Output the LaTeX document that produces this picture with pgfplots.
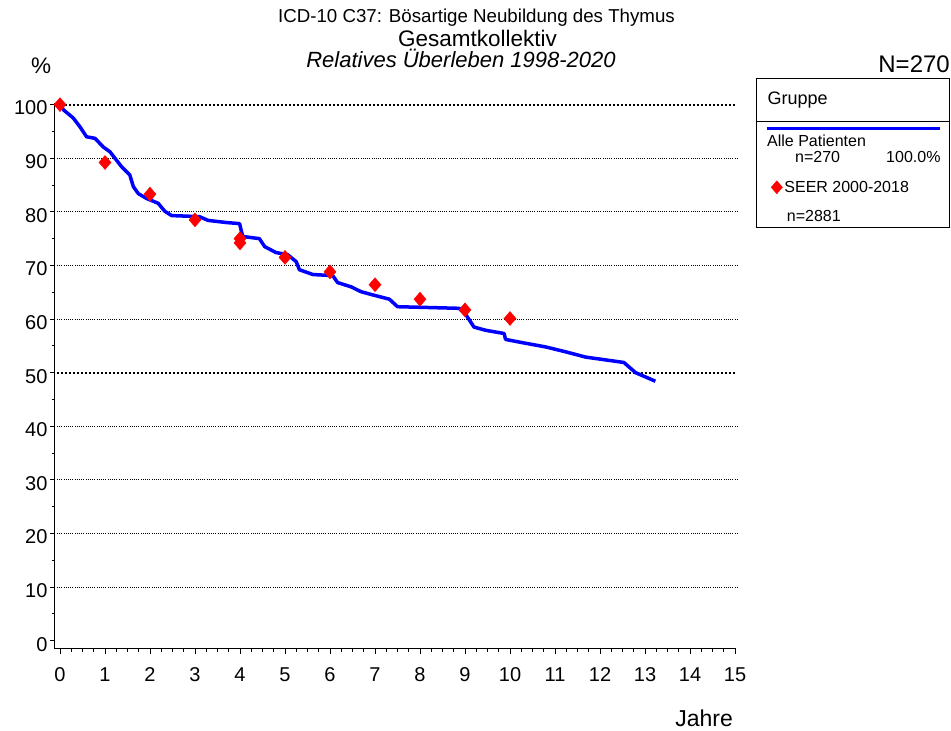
\documentclass[border=0pt]{standalone}
\usepackage{fontspec}
\setmainfont{Liberation Sans}
\usepackage{pgfplots}
\pgfplotsset{compat=1.18}

\begin{document}
\begin{tikzpicture}
\useasboundingbox (0pt,0pt) rectangle (951pt,731pt);
\begin{axis}[
  at={(55pt,82pt)}, anchor=south west,
  scale only axis, width=681pt, height=546pt,
  xmin=-0.111, xmax=15.022, ymin=-1.55, ymax=100.3,
  axis lines=left, axis line style={-, line width=1pt},
  tick align=outside,
  major tick length=5pt, minor tick length=3pt,
  every tick/.style={black, line width=0.8pt},
  xtick={0,...,15}, ytick={0,10,...,100},
  minor x tick num=3, minor y tick num=1,
  tick label style={font=\fontsize{20}{22}\selectfont},
  /pgf/number format/assume math mode=true,
  xticklabel style={yshift=-10pt},
  yticklabel style={yshift=-3.5pt, xshift=1pt},
  clip=false,
  legend style={at={(axis description cs:1.0514,0.8456)}, anchor=west,
    draw=none, fill=none, inner sep=0pt,
    font=\fontsize{16}{18}\selectfont},
  legend cell align=left,
]
% grid lines
\pgfplotsinvokeforeach{10,20,30,40,60,70,80,90}{
  \draw[black, line width=0.9pt, dash pattern=on 0.9pt off 1.3pt]
    (axis cs:-0.067,#1) -- (axis cs:15.04,#1);
}
\pgfplotsinvokeforeach{50,100}{
  \draw[black, line width=1.8pt, dash pattern=on 1.8pt off 2.2pt]
    (axis cs:-0.067,#1) -- (axis cs:15.04,#1);
}

% Alle Patienten
\addplot[blue, line width=3.5pt, line join=round, forget plot] coordinates {
(0,100) (0.08,99) (0.295,97.5) (0.44,95.9) (0.59,94.0) (0.78,93.7)
(0.96,92.1) (1.11,91.2) (1.37,88.4) (1.55,86.9) (1.63,84.7) (1.74,83.4)
(1.92,82.5) (2.18,81.6) (2.33,80.1) (2.48,79.3) (3.10,79.1) (3.29,78.4)
(3.70,78.0) (3.99,77.8) (4.06,75.4) (4.43,75.0) (4.55,73.5) (4.80,72.4)
(5.06,72.0) (5.25,70.7) (5.32,69.2) (5.62,68.3) (6.06,68.1) (6.17,66.8)
(6.47,66.0) (6.69,65.1) (6.95,64.5) (7.32,63.7) (7.50,62.3) (8.87,62.0)
(9.02,60.8) (9.20,58.5) (9.46,57.9) (9.87,57.3) (9.90,56.2) (10.27,55.6)
(10.79,54.8) (11.23,53.9) (11.68,52.9) (12.53,51.9) (12.79,50.0) (13.23,48.4)
};

% SEER 2000-2018
\addplot[only marks, mark=diamond*, mark size=7pt, color=red,
  mark options={xscale=1.15},
  legend image code/.code={\draw[##1,mark size=6.5pt] plot coordinates {(0pt,0pt)};}]
coordinates {
(0,100) (1,89.2) (2,83.3) (3,78.5) (4,74.2) (4,75.0) (5,71.5)
(6,68.8) (7,66.4) (8,63.7) (9,61.7) (10,60.1)
};
\addlegendentry{SEER 2000-2018}
\end{axis}

% titles
\node[anchor=base, inner sep=0pt, font=\fontsize{18.7}{20}\selectfont]
  at (476.5pt,708pt) {ICD-10 C37: Bösartige Neubildung des Thymus};
\node[anchor=base, inner sep=0pt, font=\fontsize{22.5}{24}\selectfont]
  at (477.5pt,684pt) {Gesamtkollektiv};
\node[anchor=base, inner sep=0pt, font=\fontsize{22}{24}\selectfont\itshape]
  at (461pt,663pt) {Relatives Überleben 1998-2020};
\node[anchor=base west, inner sep=0pt, font=\fontsize{22.5}{24}\selectfont]
  at (31pt,657pt) {\%};
\node[anchor=base east, inner sep=0pt, font=\fontsize{24}{26}\selectfont]
  at (950pt,658pt) {N=270};
\node[anchor=base east, inner sep=0pt, font=\fontsize{23}{25}\selectfont]
  at (733pt,4.3pt) {Jahre};

% legend box
\draw[black, line width=1pt] (756.7pt,503.7pt) rectangle (949.5pt,652.7pt);
\draw[black, line width=1pt] (756.7pt,609.3pt) -- (949.5pt,609.3pt);
\draw[blue, line width=3.5pt] (766.7pt,602.7pt) -- (940pt,602.7pt);
\node[anchor=base west, inner sep=0pt, font=\fontsize{18}{20}\selectfont]
  at (767.3pt,626.7pt) {Gruppe};
\node[anchor=base west, inner sep=0pt, font=\fontsize{16}{18}\selectfont]
  at (767pt,584pt) {Alle Patienten};
\node[anchor=base west, inner sep=0pt, font=\fontsize{16}{18}\selectfont]
  at (795pt,568.5pt) {n=270};
\node[anchor=base east, inner sep=0pt, font=\fontsize{16}{18}\selectfont]
  at (940.7pt,568.5pt) {100.0\%};
\node[anchor=base west, inner sep=0pt, font=\fontsize{16}{18}\selectfont]
  at (786.7pt,509.3pt) {n=2881};
\end{tikzpicture}
\end{document}
